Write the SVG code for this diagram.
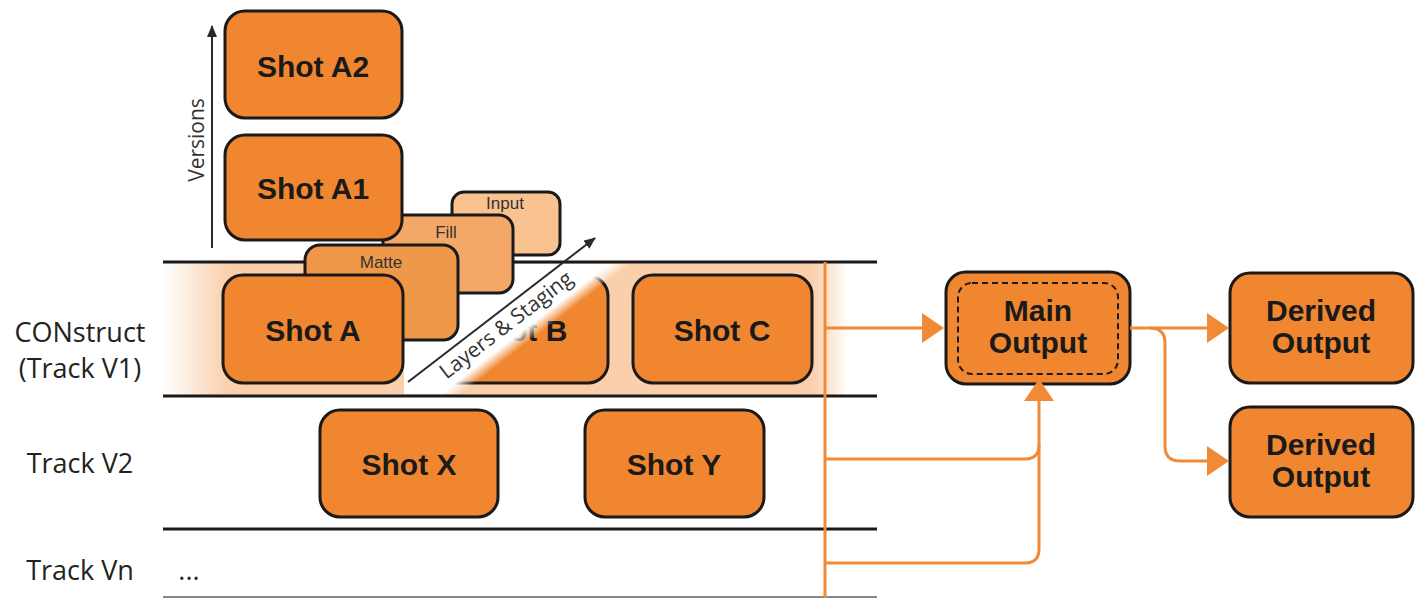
<svg xmlns="http://www.w3.org/2000/svg" width="1423" height="598" viewBox="0 0 1423 598">
<style>
.box{fill:#F0862F;stroke:#1a1a1a;stroke-width:3}
.lbl{font-family:"Liberation Sans",Arial,sans-serif;font-weight:bold;font-size:30px;fill:#1a1a1a;text-anchor:middle}
.small{font-family:"Liberation Sans",Arial,sans-serif;font-size:17px;fill:#333;text-anchor:middle}
.trk{font-family:"Open Sans",sans-serif;font-size:27px;fill:#222;text-anchor:middle}
.rule{stroke:#1a1a1a;stroke-width:3}
.con{fill:none;stroke:#F08A36;stroke-width:3}
.thin{fill:none;stroke:#2a2a2a;stroke-width:2}
</style>
<defs>
<marker id="ah" viewBox="0 0 22 30" refX="0" refY="15" markerWidth="22" markerHeight="30" orient="auto" markerUnits="userSpaceOnUse"><path d="M0,0 L22,15 L0,30 Z" fill="#F08A36"/></marker>
<marker id="sa" viewBox="0 0 12 10" refX="11" refY="5" markerWidth="12" markerHeight="10" orient="auto" markerUnits="userSpaceOnUse"><path d="M0,0 L12,5 L0,10 Z" fill="#2a2a2a"/></marker>
<linearGradient id="band" x1="163" y1="0" x2="877" y2="0" gradientUnits="userSpaceOnUse">
<stop offset="0" stop-color="#FAD0AC" stop-opacity="0"/>
<stop offset="0.09" stop-color="#FAD0AC"/>
<stop offset="0.91" stop-color="#FAD0AC"/>
<stop offset="0.96" stop-color="#FAD0AC" stop-opacity="0"/>
</linearGradient>
<linearGradient id="fade" x1="500" y1="311" x2="525.6" y2="344.3" gradientUnits="userSpaceOnUse">
<stop offset="0" stop-color="#fff" stop-opacity="1"/>
<stop offset="0.7" stop-color="#fff" stop-opacity="1"/>
<stop offset="1" stop-color="#fff" stop-opacity="0"/>
</linearGradient>
</defs>
<rect width="1423" height="598" fill="#fff"/>
<rect x="163" y="263" width="714" height="132" fill="url(#band)"/>
<g id="rules">
<line class="rule" x1="163" y1="262" x2="877" y2="262"/>
<line class="rule" x1="163" y1="396" x2="877" y2="396"/>
<line class="rule" x1="163" y1="529" x2="877" y2="529"/>
<line x1="163" y1="597" x2="877" y2="597" stroke="#888" stroke-width="2"/>
</g>
<g id="track-labels">
<text class="trk" x="80" y="342">CONstruct</text>
<text class="trk" x="80" y="378">(Track V1)</text>
<text class="trk" x="80" y="473">Track V2</text>
<text class="trk" x="80" y="580">Track Vn</text>
<text class="trk" x="189" y="580">...</text>
</g>
<g id="shot-b"><rect class="box" x="430" y="276" width="178" height="107" rx="20"/><text class="lbl" x="519" y="341">Shot B</text></g>
<polygon points="404,264 640,264 640,394 404,394" fill="url(#fade)"/>
<g id="versions-axis">
<line class="thin" x1="212" y1="248" x2="212" y2="26" marker-end="url(#sa)"/>
<text font-family="'Open Sans',sans-serif" font-size="21" fill="#333" text-anchor="middle" transform="translate(204,140) rotate(-90)">Versions</text>
</g>
<g id="layer-input"><rect x="452" y="192" width="108" height="63" rx="12" fill="#F8C291" stroke="#1a1a1a" stroke-width="3"/><text class="small" x="505" y="209">Input</text></g>
<g id="layer-fill"><rect x="383" y="215" width="130" height="78" rx="14" fill="#F4A867" stroke="#1a1a1a" stroke-width="3"/><text class="small" x="446" y="238">Fill</text></g>
<g id="shot-a1"><rect class="box" x="225" y="135" width="177" height="105" rx="20"/><text class="lbl" x="313" y="199">Shot A1</text></g>
<g id="shot-a2"><rect class="box" x="225" y="11" width="177" height="107" rx="20"/><text class="lbl" x="313" y="77">Shot A2</text></g>
<g id="layer-matte"><rect x="305" y="245" width="153" height="95" rx="15" fill="#EF9849" stroke="#1a1a1a" stroke-width="3"/><text class="small" x="381" y="268">Matte</text></g>
<g id="layers-axis">
<line class="thin" x1="408" y1="382" x2="595" y2="238" marker-end="url(#sa)"/>
<text font-family="'Open Sans',sans-serif" font-size="21" fill="#333" text-anchor="middle" transform="translate(497,313) rotate(-37.6)" y="22">Layers &amp; Staging</text>
</g>
<g id="shot-a"><rect class="box" x="223" y="275" width="180" height="108" rx="20"/><text class="lbl" x="313" y="341">Shot A</text></g>
<g id="shot-c"><rect class="box" x="633" y="275" width="179" height="108" rx="20"/><text class="lbl" x="722" y="341">Shot C</text></g>
<g id="shot-x"><rect class="box" x="320" y="410" width="178" height="107" rx="20"/><text class="lbl" x="409" y="475">Shot X</text></g>
<g id="shot-y"><rect class="box" x="585" y="410" width="179" height="107" rx="20"/><text class="lbl" x="674" y="475">Shot Y</text></g>
<g id="main-output"><rect class="box" x="946" y="272" width="184" height="112" rx="20"/><rect x="958" y="283" width="160" height="91" rx="14" fill="none" stroke="#1a1a1a" stroke-width="2" stroke-dasharray="6,4"/><text class="lbl" x="1038" y="321">Main</text><text class="lbl" x="1038" y="353">Output</text></g>
<g id="derived-output-1"><rect class="box" x="1230" y="273" width="183" height="110" rx="20"/><text class="lbl" x="1321" y="321">Derived</text><text class="lbl" x="1321" y="353">Output</text></g>
<g id="derived-output-2"><rect class="box" x="1230" y="407" width="183" height="110" rx="20"/><text class="lbl" x="1321" y="455">Derived</text><text class="lbl" x="1321" y="487">Output</text></g>
<g id="connectors">
<line class="con" x1="825" y1="262" x2="825" y2="598"/>
<path class="con" d="M825,328 H922" marker-end="url(#ah)"/>
<path class="con" d="M825,563 H1025 Q1039,563 1039,549 V445"/>
<path class="con" d="M825,459 H1025 Q1039,459 1039,445 V401" marker-end="url(#ah)"/>
<path class="con" d="M1130,328 H1207" marker-end="url(#ah)"/>
<path class="con" d="M1150,328 Q1165,328 1165,343 V446 Q1165,461 1180,461 H1207" marker-end="url(#ah)"/>
</g>
</svg>
